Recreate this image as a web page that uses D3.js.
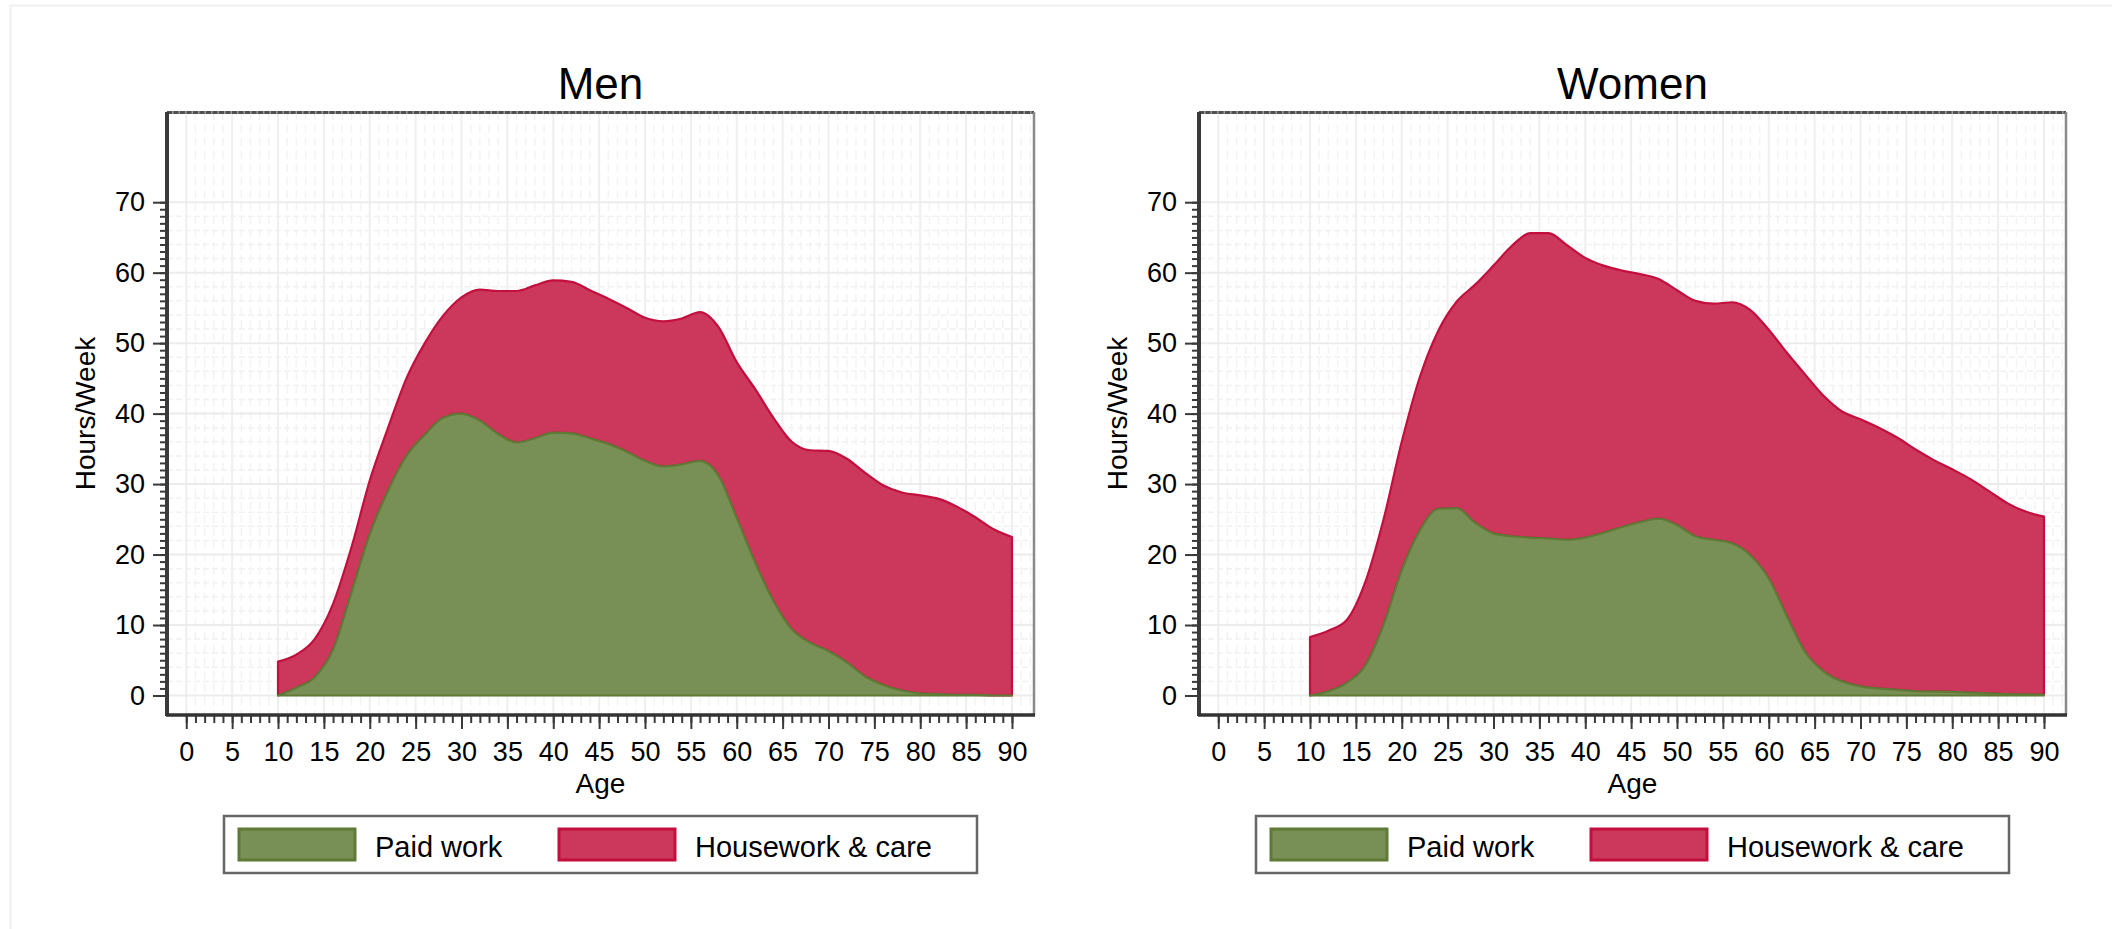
<!DOCTYPE html>
<html>
<head>
<meta charset="utf-8">
<script src="https://cdn.jsdelivr.net/npm/d3@7"></script>
<style>
  body { margin: 0; background: #fff; }
  text { font-family: "Liberation Sans", Arial, sans-serif; fill: #000; }
</style>
</head>
<body>
<script>
'use strict'

var w = 2112;
var h = 929;

// ages the values were read at
var ages = [10, 12, 14, 16, 18, 20, 22, 24, 26, 28, 30, 32, 34, 36, 38, 40, 42, 44, 46, 48, 50,
  52, 54, 56, 58, 60, 62, 64, 66, 68, 70, 72, 74, 76, 78, 80, 82, 84, 86, 88, 90];

// hours/week, men
var menPaid = [0, 1.1, 2.6, 6.5, 14.6, 22.9, 29.1, 34.0, 37.0, 39.4, 40.0, 39.0, 37.1, 35.9, 36.5, 37.3,
  37.2, 36.5, 35.7, 34.6, 33.3, 32.5, 32.8, 33.3, 31.2, 25.2, 18.9, 13.4, 9.4, 7.5, 6.3, 4.7, 2.7,
  1.5, 0.7, 0.3, 0.2, 0.1, 0.1, 0, 0];
var menHouse = [4.8, 4.7, 5.4, 6.5, 6.4, 7.6, 8.9, 11.0, 13.0, 14.5, 16.5, 18.6, 20.3, 21.5, 21.7, 21.6,
  21.5, 21.0, 20.6, 20.4, 20.3, 20.6, 20.7, 21.1, 21.1, 22.1, 24.6, 26.0, 26.6, 27.3, 28.4, 28.9, 28.9,
  28.3, 28.1, 28.1, 27.7, 26.7, 25.2, 23.6, 22.5];

// hours/week, women
var womenPaid = [0, 0.6, 1.8, 4.2, 10.0, 17.8, 23.5, 26.5, 26.6, 24.5, 23.0, 22.6, 22.4, 22.3, 22.1, 22.4,
  23.1, 23.9, 24.6, 25.1, 24.2, 22.6, 22.1, 21.6, 19.9, 16.6, 11.2, 6.1, 3.4, 2.0, 1.3, 1.0, 0.8,
  0.6, 0.55, 0.5, 0.4, 0.3, 0.2, 0.15, 0.1];
var womenHouse = [8.3, 8.6, 8.9, 11.8, 14.9, 18.2, 21.8, 25.3, 29.3, 33.8, 38.0, 41.2, 43.2, 43.3, 41.8, 39.7,
  37.9, 36.4, 35.2, 34.0, 33.3, 33.4, 33.5, 34.2, 34.8, 35.3, 37.4, 39.4, 39.1, 38.3, 37.9, 37.0, 35.8,
  34.3, 32.85, 31.6, 30.3, 28.7, 27.1, 25.95, 25.3];

var xTicks = [0, 5, 10, 15, 20, 25, 30, 35, 40, 45, 50, 55, 60, 65, 70, 75, 80, 85, 90];
var yTicks = [0, 10, 20, 30, 40, 50, 60, 70];
var seriesNames = ["Paid work", "Housework & care"];

var fills = ["#789056", "#cc375c"];
var strokes = ["#5e7a35", "#c20f3d"];

var svg = d3.select("body")
  .append("svg")
  .attr("width", w)
  .attr("height", h);

svg.append("rect").attr("width", w).attr("height", h).attr("fill", "#fff");

// faint outer graph region border
svg.append("path")
  .attr("d", "M10.5," + h + "V5.5H" + w)
  .attr("fill", "none")
  .attr("stroke", "#f0f0f0")
  .attr("stroke-width", 2);

drawPanel(0, "Men", menPaid, menHouse);
drawPanel(1032, "Women", womenPaid, womenHouse);

function drawPanel(off, title, paid, house) {
  var left = 167 + off, right = 1034 + off, top = 112, bottom = 715;

  var x = d3.scaleLinear().domain([-2.1, 92.4]).range([left, right]);
  var y = d3.scaleLinear().domain([-2.77, 82.8]).range([bottom, top]);

  var g = svg.append("g");

  //grid
  var grid = g.append("g");
  var minorX = d3.range(0, 93).filter(function(d) { return d % 5 != 0; });
  var minorY = d3.range(0, 71, 2).filter(function(d) { return d % 10 != 0; });

  grid.selectAll("line.mx").data(minorX).enter().append("line")
    .attr("x1", function(d) { return x(d); }).attr("x2", function(d) { return x(d); })
    .attr("y1", top).attr("y2", bottom)
    .attr("stroke", "#f3f3f3").attr("stroke-width", 1.5)
    .attr("stroke-dasharray", "8,5");
  grid.selectAll("line.my").data(minorY).enter().append("line")
    .attr("x1", left).attr("x2", right)
    .attr("y1", function(d) { return y(d); }).attr("y2", function(d) { return y(d); })
    .attr("stroke", "#f1f1f1").attr("stroke-width", 1.5)
    .attr("stroke-dasharray", "6,3");
  grid.selectAll("line.gx").data(xTicks).enter().append("line")
    .attr("x1", function(d) { return x(d); }).attr("x2", function(d) { return x(d); })
    .attr("y1", top).attr("y2", bottom)
    .attr("stroke", "#efefef").attr("stroke-width", 2);
  grid.selectAll("line.gy").data(yTicks).enter().append("line")
    .attr("x1", left).attr("x2", right)
    .attr("y1", function(d) { return y(d); }).attr("y2", function(d) { return y(d); })
    .attr("stroke", "#ececec").attr("stroke-width", 2);

  //stacked areas
  var rows = ages.map(function(a, i) { return { age: a, paid: paid[i], house: house[i] }; });
  var stack = d3.stack().keys(["paid", "house"]);
  var layers = stack(rows);

  var area = d3.area()
    .curve(d3.curveMonotoneX)
    .x(function(d) { return x(d.data.age); })
    .y0(function(d) { return y(d[0]); })
    .y1(function(d) { return y(d[1]); });

  // draw housework first, paid work on top
  [1, 0].forEach(function(k) {
    g.append("path")
      .datum(layers[k])
      .attr("d", area)
      .attr("fill", fills[k])
      .attr("stroke", strokes[k])
      .attr("stroke-width", 2.2)
      .attr("stroke-linejoin", "round");
  });

  //frame
  g.append("line").attr("x1", left).attr("x2", right).attr("y1", top + 0.5).attr("y2", top + 0.5)
    .attr("stroke", "#9a9a9a").attr("stroke-width", 3);
  g.append("line").attr("x1", left).attr("x2", right).attr("y1", top + 0.5).attr("y2", top + 0.5)
    .attr("stroke", "#505050").attr("stroke-width", 3).attr("stroke-dasharray", "5,1.5");
  g.append("line").attr("x1", right).attr("x2", right).attr("y1", top).attr("y2", bottom)
    .attr("stroke", "#8a8a8a").attr("stroke-width", 2.5);

  //y axis
  var yMinor = g.append("g")
    .attr("transform", "translate(" + left + ",0)")
    .call(d3.axisLeft(y).tickValues(d3.range(0, 71)).tickSize(7).tickFormat(""));
  var yMajor = g.append("g")
    .attr("transform", "translate(" + left + ",0)")
    .call(d3.axisLeft(y).tickValues(yTicks).tickSize(14).tickPadding(8));
  [yMinor, yMajor].forEach(function(a) {
    a.select(".domain").remove();
    a.selectAll("line").attr("stroke", "#3a3a3a").attr("stroke-width", 2);
  });
  yMajor.selectAll("text")
    .style("font-size", "27px")
    .style("font-family", '"Liberation Sans", Arial, sans-serif')
    .attr("fill", "#000");

  //x axis
  var xMinor = g.append("g")
    .attr("transform", "translate(0," + bottom + ")")
    .call(d3.axisBottom(x).tickValues(d3.range(0, 91)).tickSize(8).tickFormat(""));
  var xMajor = g.append("g")
    .attr("transform", "translate(0," + bottom + ")")
    .call(d3.axisBottom(x).tickValues(xTicks).tickSize(14).tickPadding(13));
  [xMinor, xMajor].forEach(function(a) {
    a.select(".domain").remove();
    a.selectAll("line").attr("stroke", "#3a3a3a").attr("stroke-width", 2);
  });
  xMajor.selectAll("text")
    .style("font-size", "27px")
    .style("font-family", '"Liberation Sans", Arial, sans-serif')
    .attr("fill", "#000");

  // axis lines
  g.append("line").attr("x1", left).attr("x2", left).attr("y1", top).attr("y2", bottom + 1)
    .attr("stroke", "#3a3a3a").attr("stroke-width", 4);
  g.append("line").attr("x1", left - 1).attr("x2", right + 1).attr("y1", bottom).attr("y2", bottom)
    .attr("stroke", "#333").attr("stroke-width", 3.5);

  //titles
  var cx = (left + right) / 2;
  g.append("text")
    .attr("x", cx).attr("y", 99)
    .attr("text-anchor", "middle")
    .style("font-size", "44px")
    .text(title);
  g.append("text")
    .attr("x", cx).attr("y", 793)
    .attr("text-anchor", "middle")
    .style("font-size", "28px")
    .text("Age");
  g.append("text")
    .attr("transform", "translate(" + (95 + off) + "," + ((top + bottom) / 2) + ") rotate(-90)")
    .attr("text-anchor", "middle")
    .style("font-size", "28px")
    .text("Hours/Week");

  //legend
  var lg = g.append("g").attr("transform", "translate(" + (224 + off) + ",816)");
  lg.append("rect")
    .attr("width", 753).attr("height", 57)
    .attr("fill", "#fff").attr("stroke", "#666").attr("stroke-width", 2.5);
  var sw = [15, 335];
  var tx = [151, 471];
  seriesNames.forEach(function(name, i) {
    lg.append("rect")
      .attr("x", sw[i]).attr("y", 13)
      .attr("width", 116).attr("height", 31)
      .attr("fill", fills[i]).attr("stroke", strokes[i]).attr("stroke-width", 3);
    lg.append("text")
      .attr("x", tx[i]).attr("y", 41)
      .style("font-size", "29px")
      .text(name);
  });
}
</script>
</body>
</html>
